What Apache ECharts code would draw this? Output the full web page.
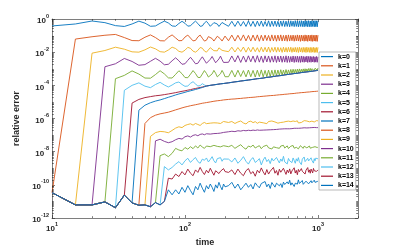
<!DOCTYPE html>
<html><head><meta charset="utf-8">
<script src="https://cdn.jsdelivr.net/npm/echarts@6/dist/echarts.min.js"></script>
<style>html,body{margin:0;padding:0;background:#fff}#c{width:397px;height:245px}</style>
</head><body><div id="c"></div>
<script>
// time samples
const time = [10,15,20,25,30,35,40,45,50,55,60,65,70,75,80,85,90,95,100,105,110,115,120,125,130,135,140,145,150,155,160,165,170,175,180,185,190,195,200,
212.5,225,237.5,250,262.5,275,287.5,300,312.5,325,337.5,350,362.5,375,387.5,400,412.5,425,437.5,450,462.5,475,487.5,500,512.5,525,537.5,550,562.5,575,587.5,600,612.5,625,637.5,650,662.5,675,687.5,700,712.5,725,737.5,750,762.5,775,787.5,800,812.5,825,837.5,850,862.5,875,887.5,900,912.5,925,937.5,950,962.5,975,987.5,1000];

// log10(relative error) values
// common floor before each curve rises (t = 10 .. 75)
const floorLog = [-10.47,-11.21,-11.21,-11.03,-11.38,-10.62,-11.09,-11.23,-11.21,-11.32,-11.07,-11.21,-11.00,-10.30];

// values from the rise up to t = 200
const k0Rise = [-0.42,-0.30,-0.12,-0.22,-0.40,-0.45,-0.30,-0.13,-0.25,-0.44,-0.42,-0.26,-0.13,-0.24,-0.42,-0.44,-0.27,-0.14,-0.26,-0.43,-0.41,-0.25,-0.13,-0.27,-0.44,-0.42,-0.24,-0.14,-0.28,-0.44,-0.40,-0.22,-0.14,-0.30,-0.45,-0.39,-0.21,-0.15,-0.32];
const k1Rise = [-1.21,-1.07,-0.98,-0.93,-1.12,-1.30,-1.31,-1.10,-0.96,-1.12,-1.31,-1.32,-1.10,-0.96,-1.14,-1.31,-1.30,-1.09,-0.97,-1.15,-1.32,-1.29,-1.08,-0.97,-1.16,-1.33,-1.28,-1.06,-0.98,-1.18,-1.33,-1.26,-1.04,-0.98,-1.20,-1.33,-1.24,-1.03];
const k2Rise = [-2.06,-1.90,-1.70,-1.82,-1.98,-2.00,-1.86,-1.69,-1.80,-1.97,-2.00,-1.87,-1.70,-1.78,-1.95,-2.00,-1.88,-1.71,-1.77,-1.94,-2.00,-1.89,-1.72,-1.76,-1.93,-2.00,-1.90,-1.73,-1.75,-1.91,-2.00,-1.92,-1.74,-1.74,-1.89,-1.99,-1.93];
const k3Rise = [-2.88,-2.70,-2.38,-2.56,-2.79,-2.75,-2.55,-2.37,-2.54,-2.76,-2.73,-2.52,-2.34,-2.52,-2.73,-2.70,-2.49,-2.31,-2.50,-2.70,-2.67,-2.46,-2.28,-2.48,-2.67,-2.64,-2.43,-2.26,-2.46,-2.64,-2.62,-2.41,-2.24,-2.45,-2.62,-2.60];
const k4Rise = [-3.60,-3.40,-3.13,-3.32,-3.56,-3.57,-3.35,-3.12,-3.31,-3.55,-3.56,-3.34,-3.12,-3.30,-3.53,-3.54,-3.33,-3.11,-3.29,-3.52,-3.53,-3.32,-3.11,-3.28,-3.50,-3.52,-3.31,-3.10,-3.27,-3.49,-3.51,-3.30,-3.10,-3.26,-3.48];
const k5Rise = [-4.30,-4.00,-3.85,-4.05,-4.14,-3.95,-3.82,-3.98,-4.10,-3.98,-3.85,-3.80,-3.95,-4.06,-4.04,-3.88,-3.78,-3.92,-4.04,-4.02,-3.90,-3.98,-4.03,-4.02,-4.00,-3.99,-3.97,-3.96,-3.94,-3.93,-3.91,-3.90,-3.89,-3.88];
const k6Rise = [-5.07,-4.85,-4.74,-4.68,-4.63,-4.60,-4.56,-4.52,-4.48,-4.44,-4.40,-4.36,-4.33,-4.29,-4.26,-4.22,-4.19,-4.16,-4.13,-4.10,-4.07,-4.04,-4.02,-4.00,-3.99,-3.97,-3.96,-3.94,-3.93,-3.91,-3.90,-3.89,-3.88];
const k7Rise = [-5.50,-5.20,-5.05,-4.95,-4.88,-4.80,-4.72,-4.65,-4.58,-4.52,-4.47,-4.42,-4.37,-4.33,-4.29,-4.25,-4.21,-4.17,-4.13,-4.09,-4.05,-4.02,-4.00,-3.99,-3.97,-3.96,-3.94,-3.93,-3.91,-3.90,-3.89,-3.88];
const k8Rise = [-6.30,-5.95,-5.80,-5.72,-5.67,-5.62,-5.55,-5.48,-5.42,-5.36,-5.31,-5.27,-5.23,-5.20,-5.17,-5.14,-5.11,-5.08,-5.06,-5.04,-5.02,-5.00,-4.98,-4.96,-4.95,-4.93,-4.92,-4.91,-4.89,-4.88,-4.87];
const k9Rise = [-7.08,-6.85,-6.78,-6.80,-6.86,-6.72,-6.58,-6.50,-6.55,-6.42,-6.36,-6.32,-6.40,-6.30,-6.36,-6.42,-6.30,-6.24,-6.31,-6.22,-6.28,-6.34,-6.26,-6.20,-6.27,-6.23,-6.30,-6.25,-6.18,-6.26];
const k10Rise = [-7.35,-7.25,-7.38,-7.46,-7.40,-7.28,-7.20,-7.24,-7.10,-7.05,-7.12,-7.02,-6.98,-7.04,-6.96,-6.93,-6.98,-6.92,-6.90,-6.94,-6.89,-6.91,-6.87,-6.90,-6.86,-6.88,-6.85,-6.84,-6.82];
const k11Rise = [-8.24,-8.14,-8.30,-8.10,-7.80,-7.90,-7.95,-7.75,-7.85,-7.70,-7.82,-7.65,-7.78,-7.60,-7.72,-7.80,-7.66,-7.58,-7.70,-7.76,-7.62,-7.74,-7.68,-7.57,-7.71,-7.79,-7.64,-7.70];
const k12Rise = [-8.90,-9.10,-8.95,-8.75,-8.60,-8.80,-8.55,-8.40,-8.65,-8.48,-8.35,-8.60,-8.70,-8.45,-8.52,-8.38,-8.62,-8.47,-8.30,-8.55,-8.68,-8.42,-8.50,-8.36,-8.58,-8.44,-8.52];
const k13Rise = [-9.60,-9.65,-9.35,-9.50,-9.20,-9.40,-9.05,-9.30,-9.45,-9.10,-9.25,-8.95,-9.20,-9.38,-9.12,-9.28,-9.00,-9.22,-9.42,-9.15,-9.05,-9.32,-9.18,-9.26,-9.02,-9.20];
const k14Rise = [-10.60,-10.30,-10.55,-10.15,-10.45,-10.05,-10.35,-10.60,-10.10,-10.30,-9.90,-10.20,-10.45,-10.05,-10.25,-9.95,-10.15,-10.40,-10.00,-10.20,-9.85,-10.10,-10.30,-9.95,-10.12];

// values for t = 212.5 .. 1000
const k0Tail = [-0.44,-0.14,-0.45,-0.13,-0.43,-0.15,-0.45,-0.12,
-0.44,-0.14,-0.46,-0.13,-0.43,-0.12,-0.45,-0.15,
-0.44,-0.11,-0.46,-0.13,-0.44,-0.12,-0.45,-0.14,
-0.47,-0.12,-0.44,-0.11,-0.46,-0.13,-0.45,-0.12,
-0.47,-0.11,-0.44,-0.13,-0.46,-0.10,-0.45,-0.12,
-0.47,-0.11,-0.45,-0.10,-0.46,-0.12,-0.47,-0.10,
-0.45,-0.11,-0.47,-0.10,-0.46,-0.12,-0.47,-0.10,
-0.45,-0.11,-0.47,-0.10,-0.46,-0.11,-0.47,-0.10];
const k1Tail = [-1.31,-0.97,-1.33,-0.98,-1.30,-0.96,-1.32,-0.99,
-1.33,-0.97,-1.31,-0.96,-1.34,-0.98,-1.32,-0.97,
-1.30,-0.99,-1.33,-0.96,-1.32,-0.98,-1.34,-0.97,
-1.31,-0.96,-1.33,-0.99,-1.32,-0.97,-1.34,-0.96,
-1.33,-0.98,-1.31,-0.97,-1.34,-0.99,-1.32,-0.96,
-1.33,-0.98,-1.35,-0.97,-1.32,-0.99,-1.34,-0.96,
-1.33,-0.98,-1.35,-0.97,-1.32,-0.98,-1.34,-0.96,
-1.35,-0.99,-1.33,-0.97,-1.34,-0.98,-1.35,-0.97];
const k2Tail = [-1.97,-1.70,-1.99,-1.72,-1.96,-1.69,-2.00,-1.71,
-1.98,-1.70,-1.97,-1.73,-2.00,-1.70,-1.98,-1.71,
-1.99,-1.69,-2.01,-1.72,-1.97,-1.70,-2.00,-1.71,
-1.98,-1.73,-2.01,-1.70,-1.99,-1.72,-2.00,-1.71,
-1.98,-1.70,-2.01,-1.73,-1.99,-1.71,-2.00,-1.72,
-2.02,-1.70,-1.99,-1.73,-2.01,-1.71,-2.00,-1.72,
-2.02,-1.70,-2.00,-1.73,-2.01,-1.71,-2.02,-1.72,
-2.00,-1.71,-2.02,-1.73,-2.01,-1.72,-2.02,-1.71];
const k3Tail = [-2.61,-2.23,-2.59,-2.21,-2.62,-2.24,-2.60,-2.22,
-2.58,-2.23,-2.61,-2.21,-2.60,-2.24,-2.62,-2.22,
-2.59,-2.23,-2.61,-2.25,-2.60,-2.22,-2.62,-2.24,
-2.59,-2.23,-2.61,-2.25,-2.60,-2.22,-2.62,-2.24,
-2.61,-2.26,-2.59,-2.23,-2.62,-2.25,-2.60,-2.24,
-2.61,-2.26,-2.62,-2.23,-2.60,-2.25,-2.61,-2.27,
-2.59,-2.24,-2.62,-2.26,-2.60,-2.25,-2.61,-2.27,
-2.59,-2.26,-2.61,-2.28,-2.60,-2.26,-2.61,-2.28];
const k4Tail = [-3.48,-3.10,-3.50,-3.09,-3.47,-3.11,-3.49,-3.08,
-3.48,-3.10,-3.50,-3.09,-3.47,-3.07,-3.49,-3.10,
-3.48,-3.08,-3.47,-3.09,-3.45,-3.07,-3.42,-3.08,
-3.40,-3.06,-3.38,-3.08,-3.35,-3.05,-3.33,-3.07,
-3.31,-3.04,-3.29,-3.03,-3.27,-3.04,-3.26,-3.02,
-3.24,-3.01,-3.22,-3.03,-3.21,-3.01,-3.19,-3.00,
-3.18,-3.01,-3.16,-2.99,-3.15,-2.98,-3.13,-3.00,
-3.12,-2.98,-3.11,-2.97,-3.09,-2.98,-3.08,-2.96];
// k=5, 6, 7 run together along one rising line here
const mergedTail = [-3.85,-3.82,-3.79,-3.77,-3.74,-3.72,-3.70,-3.68,
-3.66,-3.64,-3.62,-3.60,-3.59,-3.57,-3.56,-3.54,
-3.52,-3.51,-3.50,-3.48,-3.47,-3.46,-3.44,-3.43,
-3.42,-3.41,-3.40,-3.38,-3.37,-3.36,-3.35,-3.34,
-3.33,-3.32,-3.31,-3.30,-3.29,-3.29,-3.28,-3.27,
-3.26,-3.25,-3.24,-3.23,-3.23,-3.22,-3.21,-3.20,
-3.20,-3.19,-3.18,-3.17,-3.17,-3.16,-3.15,-3.15,
-3.14,-3.13,-3.13,-3.12,-3.11,-3.11,-3.10,-3.09];
const k8Tail = [-4.85,-4.83,-4.82,-4.80,-4.79,-4.77,-4.76,-4.74,
-4.73,-4.72,-4.71,-4.69,-4.68,-4.67,-4.66,-4.65,
-4.64,-4.63,-4.62,-4.61,-4.61,-4.60,-4.59,-4.58,
-4.57,-4.56,-4.56,-4.55,-4.54,-4.53,-4.53,-4.52,
-4.51,-4.51,-4.50,-4.49,-4.49,-4.48,-4.47,-4.47,
-4.46,-4.46,-4.45,-4.44,-4.44,-4.43,-4.43,-4.42,
-4.42,-4.41,-4.41,-4.40,-4.40,-4.39,-4.39,-4.38,
-4.38,-4.37,-4.37,-4.37,-4.36,-4.36,-4.35,-4.35];
const k9Tail = [-6.24,-6.18,-6.30,-6.21,-6.15,-6.27,-6.33,-6.20,
-6.16,-6.25,-6.19,-6.29,-6.22,-6.14,-6.26,-6.20,
-6.31,-6.18,-6.23,-6.15,-6.27,-6.21,-6.17,-6.28,
-6.19,-6.24,-6.14,-6.22,-6.30,-6.18,-6.21,-6.16,
-6.26,-6.19,-6.23,-6.15,-6.25,-6.18,-6.22,-6.14,
-6.27,-6.20,-6.17,-6.24,-6.16,-6.21,-6.13,-6.23,
-6.18,-6.15,-6.25,-6.17,-6.20,-6.13,-6.22,-6.16,
-6.19,-6.14,-6.21,-6.15,-6.18,-6.13,-6.17,-6.14];
const k10Tail = [-6.80,-6.77,-6.79,-6.74,-6.76,-6.72,-6.74,-6.71,
-6.73,-6.70,-6.72,-6.69,-6.71,-6.68,-6.70,-6.68,
-6.69,-6.67,-6.68,-6.66,-6.67,-6.65,-6.66,-6.65,
-6.64,-6.65,-6.63,-6.64,-6.62,-6.63,-6.62,-6.61,
-6.62,-6.60,-6.61,-6.60,-6.59,-6.60,-6.59,-6.58,
-6.59,-6.58,-6.57,-6.58,-6.57,-6.58,-6.56,-6.57,
-6.56,-6.57,-6.56,-6.55,-6.56,-6.55,-6.56,-6.55,
-6.54,-6.55,-6.54,-6.55,-6.54,-6.55,-6.54,-6.55];
const k11Tail = [-7.70,-7.62,-7.80,-7.68,-7.58,-7.75,-7.85,-7.66,
-7.72,-7.60,-7.78,-7.70,-7.64,-7.82,-7.69,-7.74,
-7.61,-7.77,-7.67,-7.84,-7.71,-7.63,-7.76,-7.69,
-7.80,-7.66,-7.73,-7.62,-7.78,-7.70,-7.65,-7.81,
-7.72,-7.67,-7.75,-7.63,-7.79,-7.70,-7.74,-7.66,
-7.83,-7.71,-7.64,-7.76,-7.69,-7.80,-7.67,-7.73,
-7.62,-7.77,-7.70,-7.75,-7.66,-7.79,-7.71,-7.68,
-7.74,-7.64,-7.76,-7.70,-7.72,-7.67,-7.75,-7.73];
const k12Tail = [-8.45,-8.62,-8.38,-8.70,-8.52,-8.30,-8.58,-8.75,
-8.48,-8.36,-8.65,-8.55,-8.42,-8.80,-8.50,-8.33,
-8.60,-8.47,-8.72,-8.40,-8.56,-8.64,-8.35,-8.52,
-8.68,-8.44,-8.58,-8.28,-8.62,-8.50,-8.74,-8.41,
-8.55,-8.46,-8.66,-8.38,-8.53,-8.70,-8.43,-8.57,
-8.36,-8.61,-8.49,-8.78,-8.45,-8.54,-8.32,-8.60,
-8.48,-8.67,-8.40,-8.56,-8.44,-8.63,-8.37,-8.52,
-8.46,-8.69,-8.42,-8.55,-8.39,-8.50,-8.45,-8.43];
const k13Tail = [-9.25,-9.10,-9.38,-9.05,-9.30,-9.45,-9.15,-9.02,
-9.33,-9.20,-9.48,-9.12,-9.28,-8.98,-9.22,-9.40,
-9.08,-9.35,-9.18,-9.26,-8.95,-9.30,-9.14,-9.42,
-9.06,-9.24,-9.32,-9.00,-9.19,-9.37,-9.11,-9.27,
-9.04,-9.34,-9.16,-9.22,-8.97,-9.29,-9.13,-9.39,
-9.07,-9.21,-9.31,-9.02,-9.18,-9.26,-9.09,-9.35,
-9.12,-9.20,-8.96,-9.24,-9.10,-9.30,-9.05,-9.17,
-9.28,-9.01,-9.15,-9.22,-9.08,-9.19,-9.12,-9.10];
const k14Tail = [-10.05,-9.85,-10.20,-9.95,-10.30,-10.10,-9.90,-10.15,
-9.98,-10.25,-9.88,-10.05,-10.18,-9.92,-10.02,-9.80,
-10.12,-9.95,-10.22,-9.86,-10.00,-10.14,-9.90,-9.78,
-10.06,-9.93,-10.16,-9.84,-9.98,-10.08,-9.82,-9.95,
-9.72,-10.02,-9.88,-9.76,-10.10,-9.90,-9.80,-9.96,
-9.70,-9.92,-10.04,-9.83,-9.74,-9.97,-9.86,-10.06,
-9.78,-9.90,-9.68,-9.94,-9.82,-10.00,-9.75,-9.88,
-9.79,-9.95,-9.72,-9.85,-9.77,-9.90,-9.80,-9.78];

const seriesNames = ['k=0','k=1','k=2','k=3','k=4','k=5','k=6','k=7','k=8','k=9','k=10','k=11','k=12','k=13','k=14'];
const palette = ['#0072BD','#D95319','#EDB120','#7E2F8E','#77AC30','#4DBEEE','#A2142F'];

// tick marks
const xMinorTicks = [20,30,40,50,60,70,80,90,200,300,400,500,600,700,800,900,2000];
const yTickDecades = [-12,-11,-10,-9,-8,-7,-6,-5,-4,-3,-2,-1];
const yTickMantissas = [1,2,3,4,5,6,7,8,9];

const rises = [k0Rise,k1Rise,k2Rise,k3Rise,k4Rise,k5Rise,k6Rise,k7Rise,k8Rise,k9Rise,k10Rise,k11Rise,k12Rise,k13Rise,k14Rise];
const tails = [k0Tail,k1Tail,k2Tail,k3Tail,k4Tail,mergedTail,mergedTail,mergedTail,k8Tail,k9Tail,k10Tail,k11Tail,k12Tail,k13Tail,k14Tail];

const FONT = 'Liberation Sans, Arial, sans-serif';
const TXT = '#262626';

const lineSeries = seriesNames.map((name, k) => {
  const logs = floorLog.slice(0, k).concat(rises[k], tails[k]);
  if (logs.length !== time.length) throw new Error('length mismatch ' + name + ' ' + logs.length);
  return {
    name, type: 'line', symbol: 'none', showSymbol: false, animation: false,
    data: time.map((t, i) => [t, Math.pow(10, logs[i])]),
    lineStyle: { width: 0.9, color: palette[k % 7] },
    itemStyle: { color: palette[k % 7] },
    emphasis: { disabled: true }
  };
});

const tickData = [];
xMinorTicks.forEach(v => tickData.push([v, 1e-6, 0]));
yTickDecades.forEach(d => yTickMantissas.forEach(m => {
  if (m === 1 && d % 2 === 0) return;
  tickData.push([100, m * Math.pow(10, d), 1]);
}));

function renderTick(params, api) {
  const cs = params.coordSys;
  const style = { stroke: TXT, lineWidth: 0.6 };
  const len = 1.8;
  if (api.value(2) === 0) {
    const x = Math.round(api.coord([api.value(0), 1e-6])[0]) + 0.5;
    const yb = cs.y + cs.height, yt = cs.y;
    return { type: 'group', children: [
      { type: 'line', shape: { x1: x, y1: yb, x2: x, y2: yb - len }, style },
      { type: 'line', shape: { x1: x, y1: yt, x2: x, y2: yt + len }, style }
    ]};
  }
  const y = Math.round(api.coord([100, api.value(1)])[1]) + 0.5;
  const xl = cs.x, xr = cs.x + cs.width;
  return { type: 'group', children: [
    { type: 'line', shape: { x1: xl, y1: y, x2: xl + len, y2: y }, style },
    { type: 'line', shape: { x1: xr, y1: y, x2: xr - len, y2: y }, style }
  ]};
}

function powLabel(v) {
  const e = Math.log10(v);
  const r = Math.round(e);
  if (Math.abs(e - r) > 1e-6) return '';
  return '{b|10}{s|' + r + '}';
}
const richLbl = {
  b: { fontSize: 8, fontWeight: 'bold', color: TXT, fontFamily: FONT, lineHeight: 12, verticalAlign: 'bottom' },
  s: { fontSize: 5.5, fontWeight: 'bold', color: TXT, fontFamily: FONT, lineHeight: 12, verticalAlign: 'top' }
};
const axLine = { show: true, lineStyle: { color: TXT, width: 0.6 } };
const axTick = { show: true, inside: true, length: 3, lineStyle: { color: TXT, width: 0.6 } };
const nameStyle = { fontSize: 9, fontWeight: 'bold', color: TXT, fontFamily: FONT };

const chart = echarts.init(document.getElementById('c'), null, { renderer: 'canvas' });
chart.setOption({
  animation: false,
  backgroundColor: '#fff',
  color: seriesNames.map((n, k) => palette[k % 7]),
  grid: { left: 52, right: 39, top: 19, bottom: 27, containLabel: false, outerBoundsMode: 'none' },
  legend: {
    data: seriesNames, orient: 'vertical', left: 319, top: 52,
    icon: 'rect', itemWidth: 12, itemHeight: 1.2, itemGap: 0,
    padding: [0, 2, 0, 2], backgroundColor: '#fff', borderColor: '#8c8c8c', borderWidth: 0.6,
    selectedMode: false,
    textStyle: { fontSize: 7, fontWeight: 'bold', color: '#000', fontFamily: FONT, lineHeight: 9.2 }
  },
  xAxis: [
    { type: 'log', logBase: 10, min: 10, max: 2000, interval: 1, position: 'bottom',
      name: 'time', nameLocation: 'middle', nameGap: 19, nameTextStyle: nameStyle,
      axisLine: axLine, axisTick: axTick, splitLine: { show: false },
      axisLabel: { formatter: powLabel, rich: richLbl, margin: 3, showMaxLabel: false } },
    { type: 'log', logBase: 10, min: 10, max: 2000, interval: 1, position: 'top',
      axisLine: axLine, axisTick: axTick, splitLine: { show: false }, axisLabel: { show: false } }
  ],
  yAxis: [
    { type: 'log', logBase: 10, min: 1e-12, max: 1, interval: 2, position: 'left',
      name: 'relative error', nameLocation: 'middle', nameGap: 25, nameTextStyle: nameStyle,
      axisLine: axLine, axisTick: axTick, splitLine: { show: false },
      axisLabel: { formatter: powLabel, rich: richLbl, margin: 3 } },
    { type: 'log', logBase: 10, min: 1e-12, max: 1, interval: 2, position: 'right',
      axisLine: axLine, axisTick: axTick, splitLine: { show: false }, axisLabel: { show: false } }
  ],
  series: lineSeries.concat([{
    type: 'custom', name: 'ticks', renderItem: renderTick, data: tickData,
    dimensions: ['x', 'y', 'kind'], encode: { x: 0, y: 1 },
    silent: true, clip: false, z: 5, animation: false
  }])
});
</script></body></html>
